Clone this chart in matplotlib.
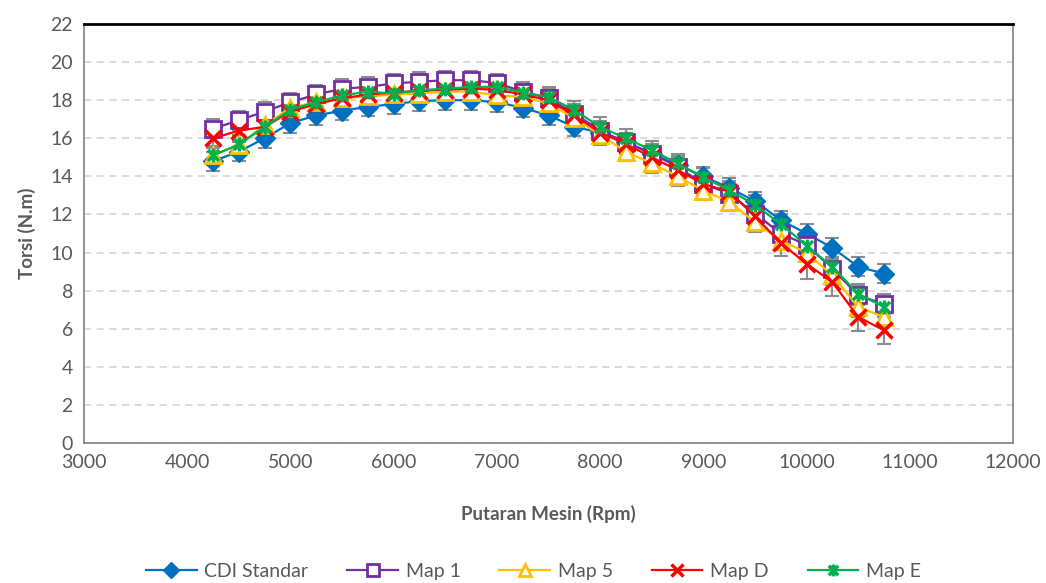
import matplotlib
matplotlib.use("Agg")
import matplotlib.pyplot as plt
from matplotlib.path import Path
import numpy as np

rpm = [4250, 4500, 4750, 5000, 5250, 5500, 5750, 6000, 6250, 6500, 6750, 7000, 7250,
       7500, 7750, 8000, 8250, 8500, 8750, 9000, 9250, 9500, 9750, 10000, 10250, 10500, 10750]

cdi_standar = [14.8, 15.3, 16.0, 16.8, 17.2, 17.45, 17.65, 17.8, 17.95, 18.0, 18.0, 17.9, 17.6,
               17.2, 16.6, 16.3, 15.8, 15.2, 14.6, 14.0, 13.4, 12.7, 11.7, 11.0, 10.25, 9.25, 8.9]
map_1 = [16.5, 16.95, 17.4, 17.9, 18.3, 18.6, 18.7, 18.88, 18.97, 19.05, 19.05, 18.9, 18.45,
         18.1, 17.3, 16.4, 15.8, 15.2, 14.5, 13.6, 13.1, 12.05, 11.0, 10.4, 9.15, 7.75, 7.3]
map_5 = [15.1, 15.65, 16.7, 17.6, 17.9, 18.1, 18.2, 18.3, 18.35, 18.45, 18.45, 18.25, 18.17,
         17.83, 17.05, 16.17, 15.3, 14.68, 14.0, 13.25, 12.67, 11.6, 10.63, 10.0, 8.8, 7.14, 6.62]
map_d = [16.0, 16.4, 16.6, 17.4, 17.8, 18.1, 18.3, 18.4, 18.5, 18.55, 18.6, 18.55, 18.3,
         18.0, 17.2, 16.3, 15.7, 15.0, 14.33, 13.6, 13.2, 11.9, 10.5, 9.41, 8.45, 6.62, 5.92]
map_e = [15.1, 15.68, 16.6, 17.5, 17.9, 18.25, 18.45, 18.35, 18.53, 18.6, 18.7, 18.7, 18.4,
         18.17, 17.48, 16.6, 16.0, 15.38, 14.68, 13.95, 13.28, 12.5, 11.5, 10.37, 9.24, 7.84, 7.14]

err_default = 0.5
err_map_d = [0.5] * 22 + [0.7, 0.8, 0.75, 0.75, 0.7]

series_names = ["CDI Standar", "Map 1", "Map 5", "Map D", "Map E"]
x_ticks = [3000, 4000, 5000, 6000, 7000, 8000, 9000, 10000, 11000, 12000]
y_ticks = [0, 2, 4, 6, 8, 10, 12, 14, 16, 18, 20, 22]

plt.rcParams['font.family'] = ['Lato', 'DejaVu Sans']

star = Path([(-1, -1), (1, 1), (-1, 1), (1, -1), (0, -1.25), (0, 1.25)],
            [Path.MOVETO, Path.LINETO, Path.MOVETO, Path.LINETO, Path.MOVETO, Path.LINETO])

fig = plt.figure(figsize=(10.46, 5.83), dpi=100)
ax = fig.add_axes([0.0803, 0.2401, 0.8882, 0.7187])

styles = [
    dict(data=cdi_standar, err=err_default, color="#0070C0", marker="D", ms=10, mfc="#0070C0", mew=1),
    dict(data=map_1, err=err_default, color="#7030A0", marker="s", ms=11, mfc="white", mew=2),
    dict(data=map_5, err=err_default, color="#FFC000", marker="^", ms=11, mfc="white", mew=2),
    dict(data=map_d, err=err_map_d, color="#FF0000", marker="x", ms=11, mfc="none", mew=2.5),
    dict(data=map_e, err=err_default, color="#00B050", marker=star, ms=10, mfc="none", mew=2.5),
]

for name, st in zip(series_names, styles):
    ax.errorbar(rpm, st["data"], yerr=st["err"], fmt="none", ecolor="#8C8C8C",
                elinewidth=1.5, capsize=5, capthick=1.5, zorder=2)

for name, st in zip(series_names, styles):
    ax.plot(rpm, st["data"], color=st["color"], lw=1.6, marker=st["marker"],
            ms=st["ms"], mfc=st["mfc"], mec=st["color"], mew=st["mew"],
            label=name, zorder=3)

ax.set_xlim(3000, 12000)
ax.set_ylim(0, 22)
ax.set_xticks(x_ticks)
ax.set_yticks(y_ticks)
ax.tick_params(axis="both", length=0, labelsize=14, colors="#595959", pad=8)
ax.grid(axis="y", color="#D9D9D9", linestyle=(0, (4, 3)), lw=1.3)
ax.set_axisbelow(True)

for s in ["left", "bottom", "right"]:
    ax.spines[s].set_color("#808080")
    ax.spines[s].set_linewidth(1.2)
ax.spines["top"].set_color("black")
ax.spines["top"].set_linewidth(2)

ax.set_xlabel("Putaran Mesin (Rpm)", fontsize=13.5, fontweight="bold", color="#595959", labelpad=24)
ax.set_ylabel("Torsi (N.m)", fontsize=13.5, fontweight="bold", color="#595959", labelpad=10)

leg = fig.legend(loc="center", bbox_to_anchor=(0.51, 0.02), ncol=5, frameon=False,
                 fontsize=14, handlelength=2.6, columnspacing=2.0, handletextpad=0.4,
                 markerscale=0.85)
for t in leg.get_texts():
    t.set_color("#595959")

fig.savefig("out.png", dpi=100)
